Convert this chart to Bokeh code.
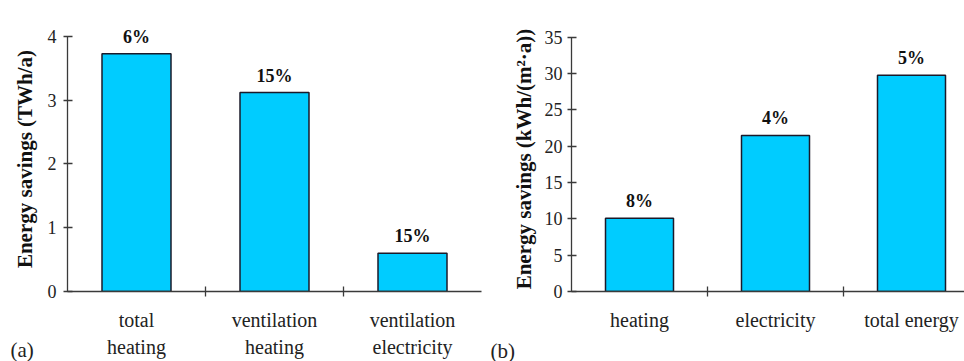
from bokeh.plotting import figure
from bokeh.layouts import row
from bokeh.models import ColumnDataSource, LabelSet, Label, FixedTicker, Range1d
from bokeh.embed import file_html
from bokeh.resources import INLINE

# ---- data ----
cats_a = ["total\nheating", "ventilation\nheating", "ventilation\nelectricity"]
vals_a = [3.73, 3.12, 0.60]
pct_a = ["6%", "15%", "15%"]
yticks_a = [0, 1, 2, 3, 4]

cats_b = ["heating", "electricity", "total energy"]
vals_b = [10.1, 21.5, 29.8]
pct_b = ["8%", "4%", "5%"]
yticks_b = [0, 5, 10, 15, 20, 25, 30, 35]

FONT = "Liberation Serif"
FILL = "#00CCFF"
EDGE = "#1a1a2a"
AX = "#3a3a3a"


def make_panel(cats, vals, pct, yticks, ylabel, width, x_end, y_end, y_top,
               border_left, border_top, border_bottom, border_right, ytick_standoff,
               ylabel_standoff):
    n = len(cats)
    xs = [i + 1 for i in range(n)]
    src = ColumnDataSource(dict(x=xs, top=vals, pct=pct))
    p = figure(width=width, height=361, output_backend="svg", toolbar_location=None,
               x_range=Range1d(0.5, x_end), y_range=Range1d(0, y_end),
               min_border_left=border_left, min_border_right=border_right,
               min_border_top=border_top, min_border_bottom=border_bottom)
    p.outline_line_color = None
    p.grid.visible = False
    p.background_fill_color = "white"
    p.border_fill_color = "white"

    p.vbar(x="x", top="top", width=0.5, bottom=0, source=src,
           fill_color=FILL, line_color=EDGE, line_width=1.5)

    labels = LabelSet(x="x", y="top", text="pct", source=src,
                      text_align="center", text_baseline="middle", y_offset=17,
                      text_font=FONT, text_font_style="bold", text_font_size="18px",
                      text_color="#111111")
    p.add_layout(labels)

    # y axis
    ya = p.yaxis[0]
    ya.ticker = FixedTicker(ticks=yticks, minor_ticks=[])
    ya.bounds = (0, y_top)
    ya.axis_line_color = AX
    ya.axis_line_width = 1.3
    ya.major_tick_line_color = AX
    ya.major_tick_line_width = 1.3
    ya.major_tick_in = 5
    ya.major_tick_out = 4
    ya.minor_tick_line_color = None
    ya.major_label_text_font = FONT
    ya.major_label_text_font_size = "18px"
    ya.major_label_text_color = "#222222"
    ya.major_label_standoff = ytick_standoff
    ya.axis_label = ylabel
    ya.axis_label_text_font = FONT
    ya.axis_label_text_font_style = "bold"
    ya.axis_label_text_font_size = "21px"
    ya.axis_label_text_color = "#111111"
    ya.axis_label_standoff = ylabel_standoff

    # x axis: category labels at bar centres, separator ticks between
    xa = p.xaxis[0]
    seps = [i + 1.5 for i in range(n - 1)]
    xa.ticker = FixedTicker(ticks=xs, minor_ticks=seps)
    xa.major_label_overrides = {x: c for x, c in zip(xs, cats)}
    xa.axis_line_color = AX
    xa.axis_line_width = 1.3
    xa.major_tick_line_color = None
    xa.minor_tick_line_color = AX
    xa.minor_tick_line_width = 1.3
    xa.minor_tick_in = 5
    xa.minor_tick_out = 5
    xa.major_label_text_font = FONT
    xa.major_label_text_font_size = "20px"
    xa.major_label_text_color = "#222222"
    xa.major_label_text_line_height = 1.25
    xa.major_label_standoff = 11
    return p


pa = make_panel(cats_a, vals_a, pct_a, yticks_a, "Energy savings (TWh/a)",
                width=484, x_end=3.5, y_end=4.156, y_top=4,
                border_left=67, border_top=26, border_bottom=68, border_right=3,
                ytick_standoff=7, ylabel_standoff=8)
pb = make_panel(cats_b, vals_b, pct_b, yticks_b, "Energy savings (kWh/(m²·a))",
                width=480, x_end=0.5 + (964 - 571) / 136.0, y_end=36.5, y_top=35,
                border_left=87, border_top=7, border_bottom=70, border_right=0,
                ytick_standoff=5, ylabel_standoff=6)

# panel tags, placed in side panels so they are not clipped to the frame
tag_a = Label(x=-57, y=-323, x_units="screen", y_units="screen", text="(a)",
              text_font=FONT, text_font_size="21px", text_baseline="middle",
              text_color="#222222")
pa.add_layout(tag_a, "above")
tag_b = Label(x=-81, y=7, x_units="screen", y_units="screen", text="(b)",
              text_font=FONT, text_font_size="21px", text_baseline="middle",
              text_color="#222222")
pb.add_layout(tag_b, "below")

layout = row(pa, pb)
open("out.html", "w").write(file_html(layout, INLINE))
